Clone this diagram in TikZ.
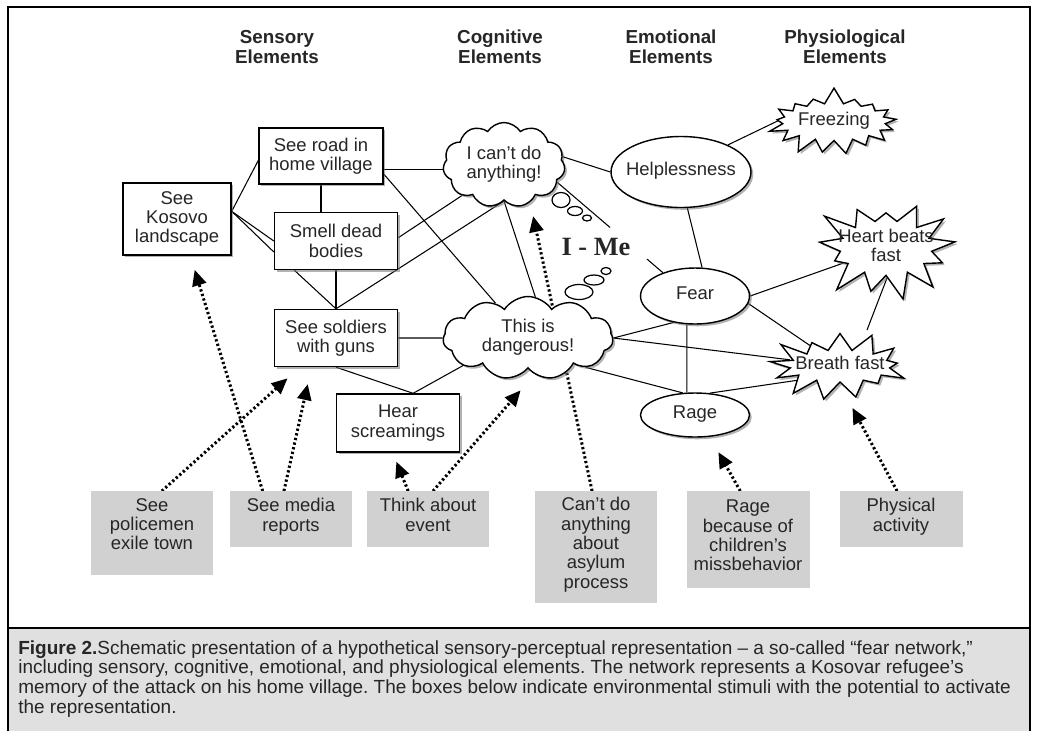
\documentclass[tikz,border=0pt]{standalone}
\usepackage{fontspec}
\setmainfont{Liberation Sans}
\newfontfamily\meserif{Liberation Serif}
\usetikzlibrary{shapes.geometric,shapes.symbols,shadows,arrows.meta,backgrounds,calc}
\newcommand{\midtext}[1]{\makebox[0pt]{\begin{tabular}{@{}c@{}}#1\end{tabular}}}
\frenchspacing

\begin{document}
\begin{tikzpicture}[x=0.02cm, y=-0.02cm,
		every node/.style={font=\fontsize{10.5}{11}\selectfont, text=black!85},
		boxshadow/.style={drop shadow={shadow xshift=1.3pt, shadow yshift=-1.3pt, fill=black!55, opacity=0.55}},
		sensebox/.style={draw, line width=0.8pt, fill=white, boxshadow, minimum width=2.46cm, minimum height=1.14cm, align=center, inner sep=1pt},
		thought/.style={cloud, cloud puffs=11, cloud puff arc=115, aspect=1.4, draw, line width=0.8pt, fill=white, boxshadow, inner sep=0pt},
		feeling/.style={ellipse, draw, line width=0.8pt, fill=white, boxshadow, inner sep=0pt},
		burst/.style={starburst, draw, line width=0.8pt, fill=white, boxshadow, inner sep=0pt},
		bubble/.style={ellipse, draw, line width=0.7pt, fill=white, inner sep=0pt},
		stimbox/.style={fill=black!18, minimum width=2.46cm, anchor=north, align=center, inner sep=2pt, text depth=5pt},
		header/.style={font=\fontsize{10.7}{11.4}\selectfont\bfseries, align=center},
		link/.style={line width=0.6pt},
		trigger/.style={line width=1.7pt, dash pattern=on 1.3pt off 1.4pt, -{Triangle[length=9pt,width=8pt]}}
	]
	\useasboundingbox (0,0) rectangle (1037,731);

	% make the frame and the caption panel
	\fill[black!12] (8,628) rectangle (1030,731);
	\draw[line width=0.8pt] (8,731) -- (8,7) -- (1030,7) -- (1030,731);
	\draw[line width=0.8pt] (8,628) -- (1030,628);
	\node[anchor=north west, align=left, inner sep=0pt, font=\fontsize{10.8}{11.2}\selectfont] (caption) at (18,640)
		{\textbf{Figure 2.}Schematic presentation of a hypothetical sensory-perceptual representation -- a so-called ``fear network,''\\
		including sensory, cognitive, emotional, and physiological elements. The network represents a Kosovar refugee's\\
		memory of the attack on his home village. The boxes below indicate environmental stimuli with the potential to activate\\
		the representation.};

	% make the column headers
	\node[header] (hdsens) at (277,47) {Sensory\\Elements};
	\node[header] (hdcog) at (500,47) {Cognitive\\Elements};
	\node[header] (hdemo) at (671,47) {Emotional\\Elements};
	\node[header] (hdphys) at (845,47) {Physiological\\Elements};

	% make the sensory boxes
	\node[sensebox, minimum width=2.16cm, minimum height=1.44cm] (kosovo) at (177,219) {See\\Kosovo\\landscape};
	\node[sensebox, minimum width=2.48cm, minimum height=1.12cm] (road) at (321,156) {See road in\\home village};
	\node[sensebox] (smell) at (336,241) {Smell dead\\bodies};
	\node[sensebox] (soldiers) at (336,338) {See soldiers\\with guns};
	\node[sensebox, minimum height=1.16cm] (hear) at (398,423) {Hear\\screamings};

	% make the thought clouds and their bubbles
	\node[thought, minimum width=2.44cm, minimum height=1.7cm] (ican) at (504,165) {\midtext{I can't do\\anything!}};
	\node[thought, minimum width=3.4cm, minimum height=1.66cm] (danger) at (528,338) {\midtext{This is\\dangerous!}};
	\node[bubble, minimum width=0.36cm, minimum height=0.3cm] (icanbub1) at (561,200) {};
	\node[bubble, minimum width=0.3cm, minimum height=0.18cm] (icanbub2) at (575,211) {};
	\node[bubble, minimum width=0.18cm, minimum height=0.12cm] (icanbub3) at (587,218) {};
	\node[bubble, minimum width=0.56cm, minimum height=0.3cm] (dangerbub1) at (579,292) {};
	\node[bubble, minimum width=0.4cm, minimum height=0.2cm] (dangerbub2) at (594,280) {};
	\node[bubble, minimum width=0.2cm, minimum height=0.14cm] (dangerbub3) at (606,271) {};
	\node[font=\fontsize{15}{16}\meserif\bfseries] (ime) at (596,247) {I - Me};

	% make the emotional ellipses
	\node[feeling, minimum width=2.8cm, minimum height=1.42cm] (help) at (681,172) {\midtext{Helplessness}};
	\node[feeling, minimum width=2.18cm, minimum height=1.12cm] (fear) at (695,296) {\midtext{Fear}};
	\node[feeling, minimum width=2.18cm, minimum height=0.88cm] (rage) at (695,415) {\midtext{Rage}};

	% make the physiological bursts
	\node[burst, starburst points=17, starburst point height=0.34cm, random starburst=7, minimum width=2.74cm, minimum height=1.42cm] (freeze) at (834,122) {\midtext{Freezing}};
	\node[burst, starburst points=13, starburst point height=0.6cm, random starburst=23, minimum width=3.04cm, minimum height=1.96cm] (heart) at (886,248) {\midtext{Heart beats\\fast}};
	\node[burst, starburst points=13, starburst point height=0.5cm, random starburst=41, minimum width=3cm, minimum height=1.64cm] (breath) at (840,366) {\midtext{Breath fast}};

	% make the stimulus boxes
	\node[stimbox, minimum height=1.68cm, text depth=10.5pt] (police) at (152,491) {See\\policemen\\exile town};
	\node[stimbox, minimum height=1.12cm] (media) at (291,491) {See media\\reports};
	\node[stimbox, minimum height=1.12cm] (think) at (428,491) {Think about\\event};
	\node[stimbox, minimum height=2.24cm] (asylum) at (596,491) {Can't do\\anything\\about\\asylum\\process};
	\node[stimbox, minimum height=1.94cm] (ragebox) at (748,491) {Rage\\because of\\children's\\missbehavior};
	\node[stimbox, minimum height=1.12cm] (phys) at (901,491) {Physical\\activity};

	\begin{pgfonlayer}{background}
		% make the sensory links
		\draw[link] (kosovo.8) -- (road.184);
		\draw[link] (kosovo.8) -- (smell.west);
		\draw[link] (kosovo.8) -- (smell.190);
		\draw[link] (road.south) -- (road.south |- smell.north);
		\draw[link] (road.-12) -- (road.-12 -| ican.center);
		\draw[link] (road.-16) -- (danger.133);
		\draw[link] (smell.3) -- (ican.216);
		\draw[link] (smell.215) -- (soldiers.north);
		\draw[link] (smell) -- (soldiers);
		\draw[link] (soldiers.north) -- (ican.south);
		\draw[link] (ican.south) -- (danger.80);
		\draw[link] (soldiers) -- (danger);
		\draw[link] (soldiers.south) -- (hear.63);
		\draw[link] (hear.63) -- (danger.203);

		% make the emotional and physiological links
		\draw[link] (ican.8) -- (help.west);
		\draw[link] (ican.-18) -- ($(ican.-18)!0.5!(fear.144)$);
		\draw[link] ($(ican.-18)!0.85!(fear.144)$) -- (fear.144);
		\draw[link] (help.-80) -- (fear.76);
		\draw[link] (help.30) -- ([shift={(-44,-7)}]freeze.center);
		\draw[link] (danger.east) -- (fear.231);
		\draw[link] (danger.east) -- (breath);
		\draw[link] (danger.-27) -- (rage.119);
		\draw[link] (fear.254) -- (rage.110);
		\draw[link] (rage.56) -- ([shift={(0,8)}]breath.center);
		\draw[link] (fear.east) -- (heart);
		\draw[link] (fear.-8) -- (breath);
		\draw[link] ([shift={(1,30)}]heart.center) -- ([shift={(27,-36)}]breath.center);

		% make the stimulus arrows
		\draw[trigger, shorten >=9.5pt] (police.77) -- (soldiers.219);
		\draw[trigger, shorten >=8.4pt] (media.135) -- (kosovo.-70);
		\draw[trigger, shorten >=9.9pt] (media.104) -- (soldiers.230);
		\draw[trigger, shorten >=5.5pt] (think.125) -- (hear.260);
		\draw[trigger, shorten >=12pt] (think.80) -- (danger.280);
		\draw[trigger, shorten >=8pt] (asylum.94) -- (ican.-55);
		\draw[trigger, shorten >=10pt] (ragebox.99) -- (rage.-56);
		\draw[trigger, shorten >=9pt] (phys.98) -- ([shift={(5,28)}]breath.center);
	\end{pgfonlayer}

\end{tikzpicture}
\end{document}
